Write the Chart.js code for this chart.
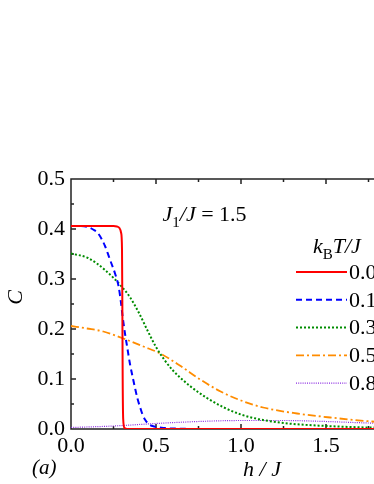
<!DOCTYPE html>
<html><head><meta charset="utf-8">
<script src="https://cdn.jsdelivr.net/npm/chart.js@4"></script>
<style>
html,body{margin:0;padding:0;overflow:hidden;background:#fff;width:374px;height:484px}
#wrap{width:450px;height:484px;position:relative}
</style></head>
<body><div id="wrap"><canvas id="c" width="450" height="484"></canvas></div>
<script>
// ---- data ----
const tempLabels = ['0.01', '0.1', '0.3', '0.5', '0.8'];

const h_T001 = [0, 0.1, 0.2, 0.25, 0.27, 0.285, 0.295, 0.3, 0.302, 0.304, 0.307, 0.315, 0.33, 0.5, 1.0, 1.5, 2.0];
const C_T001 = [0.406, 0.406, 0.406, 0.406, 0.405, 0.402, 0.392, 0.36, 0.25, 0.1, 0.02, 0.002, 0, 0, 0, 0, 0];

const h_T01 = [0, 0.05, 0.1, 0.13, 0.16, 0.2, 0.23, 0.26, 0.28, 0.292, 0.304, 0.318, 0.33, 0.348, 0.362, 0.376, 0.39, 0.407, 0.422, 0.437, 0.46, 0.49, 0.55, 0.65, 0.8, 1.0, 1.5, 2.0];
const C_T01 = [0.406, 0.406, 0.404, 0.399, 0.391, 0.366, 0.338, 0.31, 0.285, 0.258, 0.224, 0.19, 0.165, 0.128, 0.105, 0.083, 0.062, 0.043, 0.028, 0.018, 0.009, 0.005, 0.002, 0.0005, 0, 0, 0, 0];

const h_T03 = [0, 0.1, 0.2, 0.3, 0.35, 0.4, 0.45, 0.5, 0.55, 0.6, 0.7, 0.8, 0.9, 1.0, 1.1, 1.25, 1.5, 1.75, 2.0];
const C_T03 = [0.351, 0.342, 0.318, 0.284, 0.262, 0.232, 0.197, 0.164, 0.138, 0.117, 0.086, 0.062, 0.043, 0.029, 0.02, 0.012, 0.006, 0.003, 0.002];

const h_T05 = [0, 0.094, 0.19, 0.308, 0.426, 0.525, 0.64, 0.76, 0.88, 1.0, 1.13, 1.33, 1.525, 1.77, 2.0];
const C_T05 = [0.206, 0.201, 0.195, 0.181, 0.165, 0.151, 0.127, 0.099, 0.075, 0.057, 0.043, 0.031, 0.023, 0.015, 0.01];

const h_T08 = [0, 0.25, 0.5, 0.75, 1.0, 1.25, 1.5, 1.75, 2.0];
const C_T08 = [0.003, 0.006, 0.011, 0.015, 0.017, 0.017, 0.015, 0.012, 0.01];

const xTickLabels = ['0.0', '0.5', '1.0', '1.5', '2.0'];
const yTickLabels = ['0.0', '0.1', '0.2', '0.3', '0.4', '0.5'];

// ---- build ----
function pts(hs, cs) { return hs.map((h, i) => ({ x: h, y: cs[i] })); }

const seriesH = [h_T001, h_T01, h_T03, h_T05, h_T08];
const seriesC = [C_T001, C_T01, C_T03, C_T05, C_T08];
const colors = ['#ff0000', '#0000ff', '#008c00', '#ff8c00', '#8a2be2'];
const widths = [2, 2, 2, 1.8, 1.2];
const dashes = [[], [6, 4], [2, 2], [8, 3, 2, 3], [1, 1.2]];

const datasets = seriesH.map((hs, i) => ({
  label: tempLabels[i],
  data: pts(hs, seriesC[i]),
  borderColor: colors[i],
  borderWidth: widths[i],
  borderDash: dashes[i],
  pointRadius: 0,
  fill: false,
  cubicInterpolationMode: 'monotone'
}));

const SERIF = '"Liberation Serif", "Times New Roman", serif';

function drawRich(ctx, x, y, segs) {
  let cx = x;
  for (const s of segs) {
    ctx.font = s.font;
    ctx.fillText(s.t, cx, y + (s.dy || 0));
    cx += ctx.measureText(s.t).width;
  }
}

const decor = {
  id: 'decor',
  beforeDatasetsDraw(chart) {
    const { ctx, chartArea: a, scales: { x, y } } = chart;
    ctx.save();
    ctx.strokeStyle = '#222';
    ctx.lineWidth = 1.5;
    ctx.beginPath();
    ctx.moveTo(a.left, a.top); ctx.lineTo(a.right, a.top); ctx.lineTo(a.right, a.bottom);
    ctx.lineTo(a.left, a.bottom); ctx.closePath();
    for (let i = 0; i <= 10; i++) {
      const py = y.getPixelForValue(i * 0.05);
      const L = i % 2 === 0 ? 5 : 3;
      ctx.moveTo(a.left, py); ctx.lineTo(a.left + L, py);
      ctx.moveTo(a.right, py); ctx.lineTo(a.right - L, py);
    }
    for (let i = 0; i <= 8; i++) {
      const px = x.getPixelForValue(i * 0.25);
      const L = i % 2 === 0 ? 5 : 3;
      ctx.moveTo(px, a.bottom); ctx.lineTo(px, a.bottom - L);
      ctx.moveTo(px, a.top); ctx.lineTo(px, a.top + L);
    }
    ctx.stroke();
    ctx.restore();
  },
  afterDraw(chart) {
    const { ctx } = chart;
    ctx.save();
    ctx.fillStyle = '#000';
    ctx.textBaseline = 'alphabetic';
    ctx.textAlign = 'left';
    const it = 'italic 22px ' + SERIF, rg = '22px ' + SERIF, sm = '15px ' + SERIF;
    drawRich(ctx, 162.5, 221, [
      { t: 'J', font: it }, { t: '1', font: sm, dy: 6 }, { t: '/J', font: it }, { t: ' = 1.5', font: rg }
    ]);
    drawRich(ctx, 313, 253, [
      { t: 'k', font: it }, { t: 'B', font: sm, dy: 6 }, { t: 'T/J', font: it }
    ]);
    chart.data.datasets.forEach((ds, i) => {
      const ry = 272 + i * 27.8;
      ctx.save();
      ctx.strokeStyle = ds.borderColor;
      ctx.lineWidth = ds.borderWidth;
      ctx.setLineDash(ds.borderDash || []);
      ctx.beginPath(); ctx.moveTo(296, ry); ctx.lineTo(347, ry); ctx.stroke();
      ctx.restore();
      ctx.font = rg;
      ctx.textBaseline = 'middle';
      ctx.fillText(ds.label, 349, ry + 1);
      ctx.textBaseline = 'alphabetic';
    });
    ctx.font = 'italic 22px ' + SERIF;
    ctx.textAlign = 'center';
    ctx.fillText('h / J', 262, 476);
    ctx.save();
    ctx.translate(22, 297.5);
    ctx.rotate(-Math.PI / 2);
    ctx.fillText('C', 0, 0);
    ctx.restore();
    ctx.font = 'italic 21px ' + SERIF;
    ctx.textAlign = 'left';
    ctx.fillText('(a)', 32, 474);
    ctx.restore();
  }
};

new Chart(document.getElementById('c'), {
  type: 'line',
  data: { datasets },
  options: {
    responsive: false,
    animation: false,
    devicePixelRatio: 1,
    layout: { padding: { left: 0, top: 179, right: 39, bottom: 0 } },
    plugins: { legend: { display: false }, tooltip: { enabled: false } },
    scales: {
      x: {
        type: 'linear', min: 0, max: 2,
        grid: { display: false, drawTicks: false },
        border: { display: false },
        ticks: {
          stepSize: 0.5, padding: 4, color: '#000',
          font: { family: SERIF, size: 22 },
          maxRotation: 0, autoSkip: false,
          callback: (v, i) => xTickLabels[i]
        },
        afterFit(s) { s.height = 55; }
      },
      y: {
        type: 'linear', min: 0, max: 0.5,
        grid: { display: false, drawTicks: false },
        border: { display: false },
        ticks: {
          stepSize: 0.1, padding: 6, color: '#000',
          font: { family: SERIF, size: 22 },
          callback: (v, i) => yTickLabels[i]
        },
        afterFit(s) { s.width = 71; }
      }
    }
  },
  plugins: [decor]
});
</script>
</body></html>
